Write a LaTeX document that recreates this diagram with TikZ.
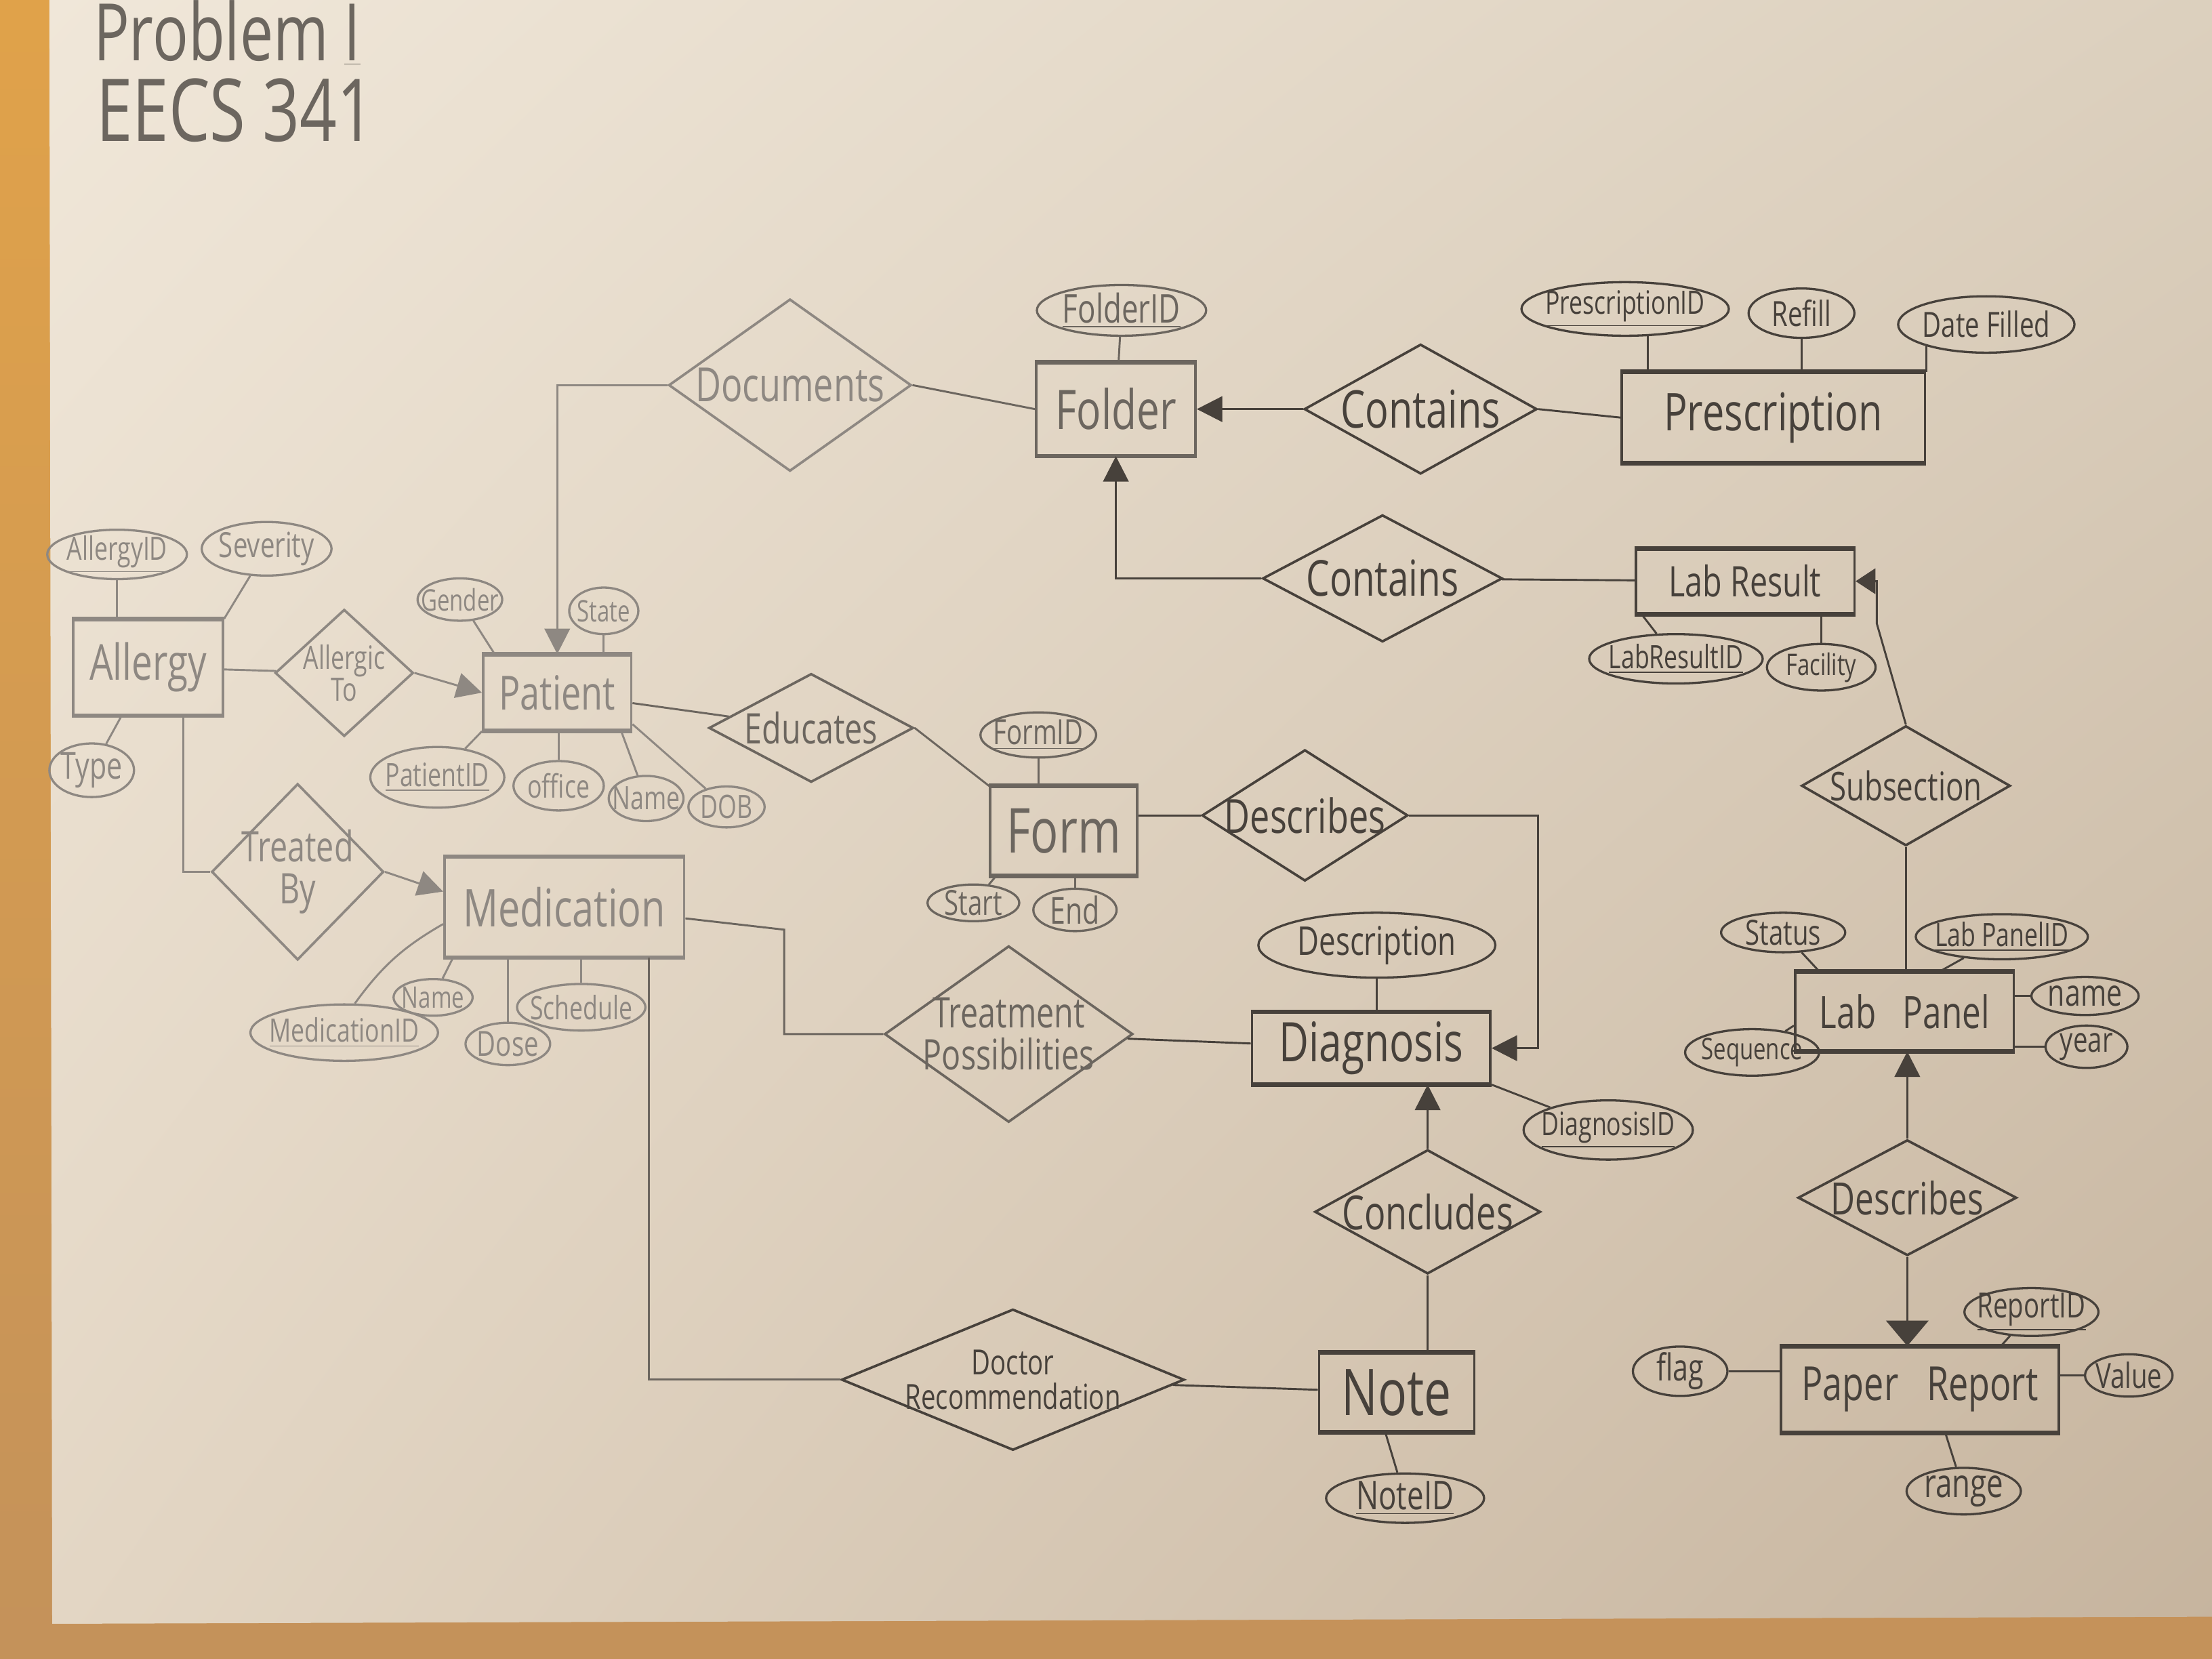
\documentclass[tikz,border=0pt]{standalone}
\usepackage{fontspec}
\setmainfont{Open Sans}[FakeStretch=0.75]
\usetikzlibrary{shapes.geometric,arrows.meta,calc,shadings}
\definecolor{plight}{HTML}{8E8882}
\definecolor{pmid}{HTML}{6C665F}
\definecolor{pdark}{HTML}{47413B}
\definecolor{woodA}{HTML}{E0A24A}
\definecolor{woodB}{HTML}{C4925A}
\definecolor{papA}{HTML}{F0E7D9}
\definecolor{papB}{HTML}{DCD0BE}
\definecolor{papC}{HTML}{E3D6C4}
\definecolor{papD}{HTML}{C6B49E}
\newcommand\hsz[1]{\fontsize{#1}{#1}\selectfont}
\newcommand\attr[7]{\node[att, cl=#1, sz={#4}{#5}, label={[lt=#1, font=\hsz{#6}]center:#7}] (#2) at (#3) {};}
\newcommand\relat[7]{\node[rel, cl=#1, sz={#4}{#5}, label={[lt=#1, font=\hsz{#6}]center:#7}] (#2) at (#3) {};}
\newcommand\entity[7]{\node[ent, cl=#1, sz={#4}{#5}, font=\hsz{#6}] (#2) at (#3) {#7};}
\begin{document}
\begin{tikzpicture}[x=0.02cm,y=-0.02cm,
  cl/.style={draw=#1, text=#1},
  lt/.style={text=#1, inner sep=0pt, align=center},
  sz/.style 2 args={minimum width=#1*0.02cm, minimum height=#2*0.02cm},
  ent/.style={draw, rectangle, inner sep=0pt, line width=1pt},
  rel/.style={draw, diamond, inner sep=0pt, line width=1pt},
  att/.style={draw, ellipse, inner sep=0pt, line width=0.9pt},
  lnk/.style={line width=0.8pt},
  arr/.style={lnk, -{Triangle[length=0.36cm,width=0.36cm]}},
  arrw/.style={lnk, -{Triangle[length=0.36cm,width=0.6cm]}},
  arrs/.style={lnk, -{Triangle[length=0.28cm,width=0.36cm]}}]
\useasboundingbox (0,0) rectangle (1568,1176);
\clip (0,0) rectangle (1568,1176);
\shade[top color=woodA,bottom color=woodB] (0,0) rectangle (1568,1176);
\shade[upper left=papA,upper right=papB,lower left=papC,lower right=papD]
  (35,-5) -- (1575,-5) -- (1575,1146) -- (37,1151) -- cycle;

% title
\node[anchor=base west, text=pmid, font=\hsz{32}, inner sep=0pt] (title1) at (66,43) {Problem \underline{I}};
\node[anchor=base west, text=pmid, font=\hsz{35}, inner sep=0pt] (title2) at (68,100) {EECS 341};

% entities
\entity{pmid}{Folder}{791,290}{113}{65}{22}{Folder}
\entity{pdark}{Prescription}{1257,296}{215}{63}{21}{Prescription}
\entity{pdark}{LabResult}{1237,412}{155}{45}{17}{Lab Result}
\entity{plight}{Allergy}{105,473}{106}{67}{20}{Allergy}
\entity{plight}{Patient}{395,491}{105}{53}{19}{Patient}
\entity{pmid}{Form}{754,589}{104}{62}{25}{Form}
\entity{plight}{Medication}{400,643}{170}{70}{21}{Medication}
\entity{pdark}{Diagnosis}{972,743}{169}{50}{22}{Diagnosis}
\entity{pdark}{LabPanel}{1350,717}{155}{55}{18}{Lab\hspace{0.6em}Panel}
\entity{pdark}{Note}{990,987}{110}{55}{26}{Note}
\entity{pdark}{PaperReport}{1361,985}{197}{60}{19}{Paper\hspace{0.6em}Report}
\foreach \n/\c in {Folder/pmid,Prescription/pdark,LabResult/pdark,Allergy/plight,Patient/plight,Form/pmid,Medication/plight,Diagnosis/pdark,LabPanel/pdark,Note/pdark,PaperReport/pdark}
  {\draw[draw=\c, line width=1.8pt] (\n.north west) -- (\n.north east) (\n.south west) -- (\n.south east);}

% relationships
\relat{plight}{Documents}{560,273}{172}{122}{19}{Documents}
\relat{pdark}{ContainsTop}{1007,290}{165}{92}{21}{Contains}
\relat{pdark}{ContainsMid}{980,410}{170}{90}{20}{Contains}
\relat{plight}{AllergicTo}{244,477}{98}{90}{13}{Allergic\\To}
\relat{pmid}{Educates}{575,516}{145}{77}{17}{Educates}
\relat{plight}{TreatedBy}{211,618}{122}{125}{17}{Treated\\By}
\relat{pdark}{Describes}{925,578}{146}{93}{19}{Describes}
\relat{pmid}{Treatment}{715,733}{176}{125}{17}{Treatment\\Possibilities}
\relat{pdark}{Concludes}{1012,859}{160}{88}{19}{Concludes}
\relat{pdark}{DocRec}{718,978}{243}{100}{14}{Doctor\\Recommendation}
\relat{pdark}{Subsection}{1351,557}{148}{85}{16}{Subsection}
\relat{pdark}{DescR}{1352,849}{155}{82}{18}{Describes}

% attributes
\attr{pmid}{FolderID}{795,220}{120}{36}{16}{\underline{FolderID}}
\attr{pdark}{PrescID}{1152,219}{147}{38}{13}{\underline{PrescriptionID}}
\attr{pdark}{Refill}{1277,222}{75}{35}{14}{Refill}
\attr{pdark}{DateFilled}{1408,230}{125}{40}{14}{Date Filled}
\attr{plight}{AllergyID}{83,393}{99}{35}{13}{\underline{AllergyID}}
\attr{plight}{Severity}{189,389}{92}{38}{14}{Severity}
\attr{plight}{Type}{65,546}{60}{38}{15}{Type}
\attr{plight}{Gender}{326,425}{60}{30}{12}{Gender}
\attr{plight}{State}{428,433}{49}{33}{12}{State}
\attr{plight}{PatientID}{310,551}{95}{43}{13}{\underline{PatientID}}
\attr{plight}{office}{396,557}{64}{35}{13}{office}
\attr{plight}{PName}{458,566}{53}{32}{13}{Name}
\attr{plight}{DOB}{515,572}{54}{29}{13}{DOB}
\attr{pmid}{FormID}{736,521}{82}{32}{14}{\underline{FormID}}
\attr{pmid}{Start}{690,640}{65}{26}{14}{Start}
\attr{pmid}{End}{762,645}{59}{30}{15}{End}
\attr{pdark}{Description}{976,670}{168}{46}{16}{Description}
\attr{pdark}{DiagID}{1140,801}{120}{42}{13}{\underline{DiagnosisID}}
\attr{pdark}{LabResultID}{1188,467}{123}{35}{13}{\underline{LabResultID}}
\attr{pdark}{Facility}{1291,473}{77}{33}{12}{Facility}
\attr{pdark}{Status}{1264,661}{88}{28}{14}{Status}
\attr{pdark}{LPID}{1419,664}{122}{32}{13}{\underline{Lab PanelID}}
\attr{pdark}{LPname}{1478,706}{76}{27}{15}{name}
\attr{pdark}{LPyear}{1479,742}{58}{30}{14}{year}
\attr{pdark}{Seq}{1242,746}{95}{33}{12}{Sequence}
\attr{pdark}{RepID}{1440,930}{95}{34}{14}{\underline{ReportID}}
\attr{pdark}{Value}{1509,975}{62}{30}{14}{Value}
\attr{pdark}{flag}{1191,972}{67}{35}{15}{flag}
\attr{pdark}{range}{1392,1057}{81}{33}{16}{range}
\attr{pdark}{NoteID}{996,1062}{112}{35}{16}{\underline{NoteID}}
\attr{plight}{MName}{307,707}{56}{26}{12}{Name}
\attr{plight}{MedID}{244,732}{133}{40}{13}{\underline{MedicationID}}
\attr{plight}{Dose}{360,740}{60}{30}{14}{Dose}
\attr{plight}{Schedule}{412,714}{91}{33}{13}{Schedule}

% connectors: left part
\draw[lnk,plight] (AllergyID) -- (AllergyID |- Allergy.north);
\draw[lnk,plight] (Severity) -- (Allergy.north east);
\draw[lnk,plight] (Type) -- (Allergy);
\draw[lnk,plight] (Allergy) -- (AllergicTo);
\draw[arr,plight] (AllergicTo.east) -- (Patient.west);
\draw[lnk,plight] ($(Allergy.south)+(25,0)$) |- (TreatedBy.west);
\draw[arr,plight] (TreatedBy.east) -- ($(Medication.west)+(0,-11)$);
\draw[lnk,plight] (Gender) -- ($(Patient.north west)+(9,0)$);
\draw[lnk,plight] (State) -- (State |- Patient.north);
\draw[lnk,plight] (PatientID) -- (Patient.south west);
\draw[lnk,plight] (office) -- (office |- Patient.south);
\draw[lnk,plight] (PName) -- ($(Patient.south east)+(-8,0)$);
\draw[lnk,plight] (DOB) -- ($(Patient.south east)+(0,-5)$);
\draw[lnk,plight] (MName) -- ($(Medication.south west)+(7,0)$);
\draw[lnk,plight] (MedID.70) to[bend left=12] ($(Medication.west)+(0,12)$);
\draw[lnk,plight] (Dose) -- (Dose |- Medication.south);
\draw[lnk,plight] (Schedule) -- (Schedule |- Medication.south);
\draw[lnk,pmid] ($(Medication.east)+(0,8)$) -- ($(Medication.east)+(70,16)$) |- (Treatment.west);
\draw[lnk,pmid] ($(Medication.south east)+(-26,0)$) |- (DocRec.west);
\draw[arr,plight] (Documents.west) -| (Patient.north);
\draw[lnk,pmid] (Documents.east) -- (Folder.west);
\draw[lnk,pmid] (Patient) -- (Educates);
\draw[lnk,pmid] (Educates.east) -- (Form.north west);
\draw[lnk,pmid] (FormID) -- (FormID |- Form.north);
\draw[lnk,pmid] (Start) -- ($(Form.south west)+(5,0)$);
\draw[lnk,pmid] (End) -- (End |- Form.south);

% connectors: right part
\draw[lnk,pmid] (FolderID) -- (Folder);
\draw[arr,pdark] (ContainsTop.west) -- (Folder.east);
\draw[lnk,pdark] (ContainsTop.east) -- (Prescription.west);
\draw[lnk,pdark] (PrescID.-50) -- (PrescID.-50 |- Prescription.north);
\draw[lnk,pdark] (Refill) -- (Refill |- Prescription.north);
\draw[lnk,pdark] (DateFilled.-160) -- (DateFilled.-160 |- Prescription.north);
\draw[arr,pdark] (ContainsMid.west) -| (Folder.south);
\draw[lnk,pdark] (ContainsMid) -- (LabResult);
\draw[lnk,pdark] (LabResultID) -- ($(LabResult.south west)+(5,0)$);
\draw[lnk,pdark] (Facility) -- (Facility |- LabResult.south);
\draw[arrs,pdark] (Subsection.north) -- ($(LabResult.east)+(15,30)$) -- ($(LabResult.east)+(15,0)$) -- (LabResult.east);
\draw[lnk,pdark] (Subsection.south) -- (Subsection.south |- LabPanel.north);
\draw[lnk,pdark] (Status) -- ($(LabPanel.north west)+(18,0)$);
\draw[lnk,pdark] (LPID) -- ($(LabPanel.north)+(25,0)$);
\draw[lnk,pdark] (LPname) -- (LPname -| LabPanel.east);
\draw[lnk,pdark] (LPyear) -- (LPyear -| LabPanel.east);
\draw[lnk,pdark] (Seq) -- ($(LabPanel.west)+(0,10)$);
\draw[arr,pdark] (DescR.north) -- (DescR.north |- LabPanel.south);
\draw[arrw,pdark] (DescR.south) -- (DescR.south |- PaperReport.north);
\draw[lnk,pdark] (RepID) -- ($(PaperReport.north east)+(-42,0)$);
\draw[lnk,pdark] (Value) -- (Value -| PaperReport.east);
\draw[lnk,pdark] (flag) -- (flag -| PaperReport.west);
\draw[lnk,pdark] (range) -- ($(PaperReport.south)+(18,0)$);
\draw[lnk,pdark] (Describes.west -| Form.east) -- (Describes.west);
\draw[arr,pdark] (Describes.east) -| ($(Diagnosis.east)+(33,0)$) -- (Diagnosis.east);
\draw[lnk,pdark] (Description) -- (Description |- Diagnosis.north);
\draw[lnk,pdark] (DiagID) -- (Diagnosis.south east);
\draw[lnk,pdark] (Treatment) -- (Diagnosis);
\draw[arr,pdark] (Concludes.north) -- (Concludes.north |- Diagnosis.south);
\draw[lnk,pdark] (Concludes.south) -- (Concludes.south |- Note.north);
\draw[lnk,pdark] (DocRec) -- (Note);
\draw[lnk,pdark] (NoteID) -- ($(Note.south)+(-8,0)$);
\end{tikzpicture}
\end{document}
